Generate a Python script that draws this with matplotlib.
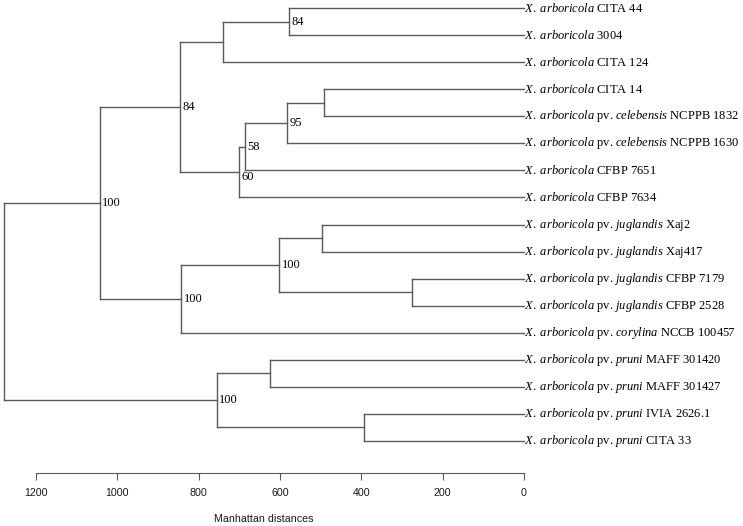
import matplotlib
matplotlib.use("Agg")
import matplotlib.pyplot as plt
import numpy as np

plt.rcParams['mathtext.fontset'] = 'custom'
plt.rcParams['mathtext.rm'] = 'Liberation Serif'
plt.rcParams['mathtext.it'] = 'Liberation Serif:italic'

# leaves, top to bottom
leaf_pathovar = [None, None, None, None, 'celebensis', 'celebensis', None, None,
                 'juglandis', 'juglandis', 'juglandis', 'juglandis', 'corylina',
                 'pruni', 'pruni', 'pruni', 'pruni']
leaf_strain = ['CITA 44', '3004', 'CITA 124', 'CITA 14', 'NCPPB 1832', 'NCPPB 1630',
               'CFBP 7651', 'CFBP 7634', 'Xaj2', 'Xaj417', 'CFBP 7179', 'CFBP 2528',
               'NCCB 100457', 'MAFF 301420', 'MAFF 301427', 'IVIA 2626.1', 'CITA 33']

# merges (scipy style: leaves 0..16, new clusters 17..)
merge_left = [0, 17, 3, 19, 20, 21, 18, 8, 10, 24, 26, 23, 13, 15, 29, 28]
merge_right = [1, 2, 4, 5, 6, 7, 22, 9, 11, 25, 12, 27, 14, 16, 30, 31]
merge_height = [578, 740, 492, 583, 686, 700, 846, 497, 275, 602, 843, 1043, 624, 393, 755, 1278]
merge_support = ['84', None, None, '95', '58', '60', '84', None, None, '100', '100', '100',
                 None, None, '100', None]

ticks = [1200, 1000, 800, 600, 400, 200, 0]

n = len(leaf_strain)
fig = plt.figure(figsize=(7.43, 5.26), dpi=100)
ax = fig.add_axes([0, 0, 1, 1])
ax.set_xlim(1288.4, -538.5)
ax.set_ylim(20.14, 0.704)

line_col = '#5a5a5a'
ypos = {i: i + 1.0 for i in range(n)}
hpos = {i: 0.0 for i in range(n)}

for k, (l, r, h, s) in enumerate(zip(merge_left, merge_right, merge_height, merge_support)):
    node = n + k
    yl, yr = ypos[l], ypos[r]
    ax.plot([h, h], [yl, yr], color=line_col, lw=1)
    ax.plot([hpos[l], h], [yl, yl], color=line_col, lw=1)
    ax.plot([hpos[r], h], [yr, yr], color=line_col, lw=1)
    ypos[node] = (yl + yr) / 2
    hpos[node] = h
    if s:
        dy = 0.17 if s == '60' else 0
        ax.text(h - 6, ypos[node] + dy, s, fontsize=9, family='Liberation Serif',
                ha='left', va='center')

for i in range(n):
    if leaf_pathovar[i]:
        lab = r'$\it{X.\ arboricola}$ pv. $\it{%s}$ %s' % (leaf_pathovar[i], leaf_strain[i])
    else:
        lab = r'$\it{X.\ arboricola}$ %s' % leaf_strain[i]
    ax.text(-1, ypos[i], lab, fontsize=9, family='Liberation Serif', ha='left', va='center')

# distance axis
for side in ['top', 'left', 'right']:
    ax.spines[side].set_visible(False)
ax.spines['bottom'].set_position(('data', 18.18))
ax.spines['bottom'].set_bounds(0, 1200)
ax.spines['bottom'].set_color(line_col)
ax.set_yticks([])
ax.set_xticks(ticks)
ax.set_xticklabels([str(t) for t in ticks], fontsize=7.7, family='Liberation Sans', color='#1a1a1a')
ax.tick_params(axis='x', direction='out', length=4.8, width=0.8, color=line_col, pad=6)
ax.text(639, 19.88, 'Manhattan distances', fontsize=7.7, family='Liberation Sans',
        ha='center', va='center', color='#1a1a1a')

fig.savefig('out.png', dpi=100)
